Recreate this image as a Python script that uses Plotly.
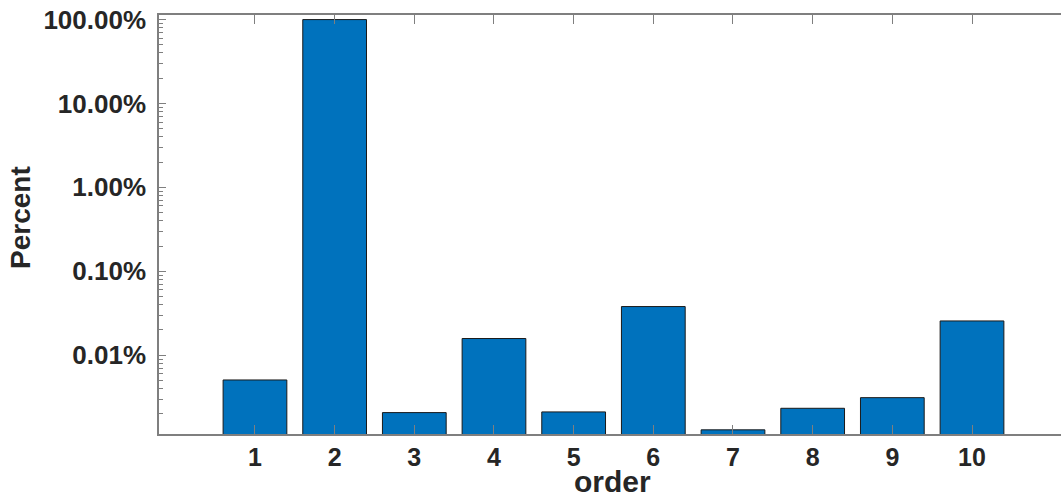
import plotly.graph_objects as go

orders = [1, 2, 3, 4, 5, 6, 7, 8, 9, 10]
percent = [5.07e-5, 0.9988, 2.07e-5, 1.58e-4, 2.11e-5, 3.80e-4, 1.29e-5, 2.33e-5, 3.12e-5, 2.56e-4]

major_ticks = [1e-4, 1e-3, 1e-2, 1e-1, 1.0]
minor_ticks = [m * 10.0 ** e for e in range(-5, 0) for m in range(2, 10)]

y_log_range = [-4.939, 0.054]
x_range = [-0.2045, 11.117]

axis_col = "#7f7f7f"
text_col = "#262626"
font_family = "Arial, Liberation Sans, Helvetica, sans-serif"

fig = go.Figure()
fig.add_trace(go.Bar(
    x=orders, y=percent, width=0.8,
    marker=dict(color="#0072BD", line=dict(color="#1a1a1a", width=1)),
    showlegend=False,
))
# invisible trace to keep minor-tick axis alive
fig.add_trace(go.Scatter(x=[None], y=[None], yaxis="y2", showlegend=False, hoverinfo="skip"))

fig.update_layout(
    width=1061, height=499,
    margin=dict(l=159, r=0, t=15, b=65),
    paper_bgcolor="white", plot_bgcolor="white",
    font=dict(family=font_family, color=text_col, size=26, weight="bold"),
    xaxis=dict(
        range=x_range, tickvals=orders, ticktext=[str(o) for o in orders],
        ticks="inside", ticklen=9, tickwidth=1, tickcolor=axis_col,
        showline=True, linecolor=axis_col, linewidth=1.5, mirror="ticks",
        showgrid=False, zeroline=False,
        tickfont=dict(size=25, family=font_family, color=text_col, weight="bold"),
    ),
    yaxis=dict(
        type="log", range=y_log_range, tickvals=major_ticks, tickformat=".2%",
        ticks="inside", ticklen=7, tickwidth=1, tickcolor=axis_col,
        showline=True, linecolor=axis_col, linewidth=1.5,
        showgrid=False, zeroline=False, ticklabelstandoff=6,
        tickfont=dict(size=26, family=font_family, color=text_col, weight="bold"),
    ),
    yaxis2=dict(
        type="log", range=y_log_range, overlaying="y", side="left",
        tickvals=minor_ticks, showticklabels=False,
        ticks="inside", ticklen=4, tickwidth=1, tickcolor=axis_col,
        showline=False, showgrid=False, zeroline=False,
    ),
    annotations=[
        dict(
            text="Percent", textangle=-90, showarrow=False,
            xref="paper", yref="paper", x=-0.153, y=0.518,
            xanchor="center", yanchor="middle",
            font=dict(size=28, family=font_family, color=text_col, weight="bold"),
        ),
        dict(
            text="order", showarrow=False, borderpad=0,
            xref="paper", yref="paper", x=0.5033, y=-0.1551,
            xanchor="center", yanchor="bottom",
            font=dict(size=30, family=font_family, color=text_col, weight="bold"),
        ),
    ],
    bargap=0.2,
)

fig.write_html("out.html")
